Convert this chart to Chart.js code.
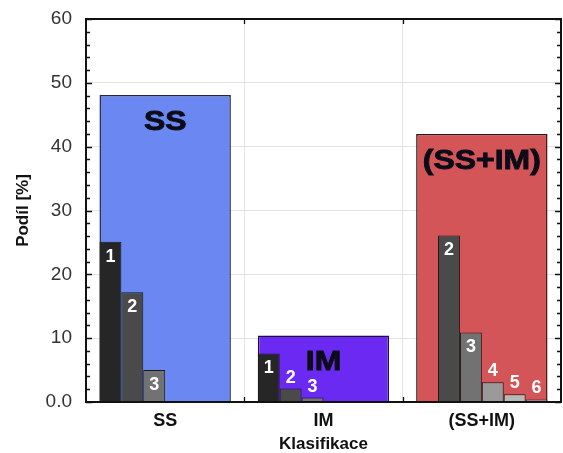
<!DOCTYPE html>
<html>
<head>
<meta charset="utf-8">
<script src="https://cdn.jsdelivr.net/npm/chart.js@4.4.1/dist/chart.umd.min.js"></script>
<style>
html,body{margin:0;padding:0;background:#fff;}
#wrap{width:563px;height:453px;position:relative;}
</style>
</head>
<body>
<div id="wrap"><canvas id="c" width="563" height="453"></canvas></div>
<script>
// ---- data ----
const categories = ['SS', 'IM', '(SS+IM)'];
const groupLabels = ['SS', 'IM', '(SS+IM)'];
const totalValues = [48.1, 10.4, 42.0];
const slotLabels = ['1', '2', '3', '4', '5', '6'];
const slot1 = [25.1, 7.6, null];
const slot2 = [17.2, 2.1, 26.1];
const slot3 = [5.0, 0.7, 10.9];
const slot4 = [null, null, 3.1];
const slot5 = [null, null, 1.2];
const slot6 = [null, null, 0.4];
const yTickLabels = ['0.0', '10', '20', '30', '40', '50', '60'];
const yTitle = 'Podíl [%]';
const xTitle = 'Klasifikace';

// ---- styles ----
const totalColors = ['#6b87f2', '#6a2af2', '#d45558'];
const totalBorders = ['#23264a', '#1e1040', '#3a1414'];
const slotColors = ['#262626', '#4a4a4a', '#727272', '#9a9a9a', '#b8b8b8', '#c4c4c4'];
const slotSeries = [slot1, slot2, slot3, slot4, slot5, slot6];
const FONT = '"Liberation Sans", Arial, sans-serif';

const datasets = [{
  label: 'total',
  data: totalValues,
  backgroundColor: totalColors,
  borderColor: totalBorders,
  borderWidth: 1.5,
  barPercentage: 0.83,
  categoryPercentage: 1,
  grouped: false,
  order: 10
}];
slotSeries.forEach((s, i) => {
  datasets.push({
    label: slotLabels[i],
    data: s,
    backgroundColor: slotColors[i],
    borderColor: '#1a1a1a',
    borderWidth: 1,
    barPercentage: 1,
    categoryPercentage: 0.83,
    order: 1
  });
});

const decor = {
  id: 'decor',
  afterDatasetsDraw(chart) {
    const ctx = chart.ctx;
    const ca = chart.chartArea;
    const y = chart.scales.y;
    const x = chart.scales.x;
    ctx.save();
    // small bar number labels
    ctx.font = 'bold 18px ' + FONT;
    ctx.textAlign = 'center';
    ctx.textBaseline = 'middle';
    ctx.fillStyle = '#ffffff';
    for (let d = 1; d < chart.data.datasets.length; d++) {
      const meta = chart.getDatasetMeta(d);
      meta.data.forEach((el, i) => {
        const v = chart.data.datasets[d].data[i];
        if (v === null || v === undefined) return;
        const h = el.base - el.y;
        const ty = h > 25 ? el.y + 15 : el.y - 11;
        ctx.fillText(chart.data.datasets[d].label, el.x, ty);
      });
    }
    // group labels
    const tmeta = chart.getDatasetMeta(0);
    ctx.fillStyle = '#0c0c18';
    ctx.strokeStyle = '#0c0c18';
    ctx.lineWidth = 0.9;
    ctx.font = 'bold 28px ' + FONT;
    tmeta.data.forEach((el, i) => {
      const ty = el.y + 27;
      ctx.save();
      ctx.translate(el.x, ty);
      ctx.scale(1.14, 1);
      ctx.fillText(groupLabels[i], 0, 0);
      ctx.strokeText(groupLabels[i], 0, 0);
      ctx.restore();
    });
    // border
    ctx.strokeStyle = '#111';
    ctx.lineWidth = 2;
    ctx.strokeRect(ca.left, ca.top, ca.right - ca.left, ca.bottom - ca.top);
    // inward ticks on y (left & right)
    ctx.lineWidth = 1.3;
    ctx.beginPath();
    for (let v = 0; v <= 60; v += 2) {
      const py = Math.round(y.getPixelForValue(v)) + 0.5;
      const len = (v % 10 === 0) ? 6 : 4;
      ctx.moveTo(ca.left, py); ctx.lineTo(ca.left + len, py);
      ctx.moveTo(ca.right, py); ctx.lineTo(ca.right - len, py);
    }
    // ticks on x at category boundaries (top & bottom)
    for (let i = 1; i < categories.length; i++) {
      const px = Math.round((x.getPixelForValue(i - 1) + x.getPixelForValue(i)) / 2) + 0.5;
      ctx.moveTo(px, ca.top); ctx.lineTo(px, ca.top + 5);
      ctx.moveTo(px, ca.bottom); ctx.lineTo(px, ca.bottom - 5);
    }
    ctx.stroke();
    ctx.restore();
  }
};

new Chart(document.getElementById('c'), {
  type: 'bar',
  data: { labels: categories, datasets: datasets },
  options: {
    responsive: false,
    animation: false,
    layout: { padding: { top: 19, right: 2, left: 0, bottom: 0 } },
    plugins: { legend: { display: false }, tooltip: { enabled: false } },
    scales: {
      x: {
        type: 'category',
        offset: true,
        grid: { offset: true, color: '#e4e4e4', lineWidth: 1, drawTicks: false },
        border: { display: false },
        ticks: { color: '#111', font: { family: FONT, size: 18, weight: 'bold' }, padding: 8 },
        title: { display: true, text: xTitle, color: '#111', font: { family: FONT, size: 17, weight: 'bold', lineHeight: 1 }, padding: { top: 3, bottom: 0 } },
        afterFit(s) { s.height = 51; s.paddingLeft = 0; s.paddingRight = 0; }
      },
      y: {
        min: 0, max: 60,
        grid: { color: '#e4e4e4', lineWidth: 1, drawTicks: false },
        border: { display: false },
        ticks: {
          stepSize: 10,
          padding: 14,
          color: '#333',
          font: { family: FONT, size: 19 },
          callback: (v, i) => yTickLabels[i]
        },
        title: { display: true, text: yTitle, color: '#111', font: { family: FONT, size: 17, weight: 'bold' }, padding: { top: 13, bottom: 0 } },
        afterFit(s) { s.width = 86; s.paddingTop = 0; s.paddingBottom = 0; }
      }
    }
  },
  plugins: [decor]
});
</script>
</body>
</html>
